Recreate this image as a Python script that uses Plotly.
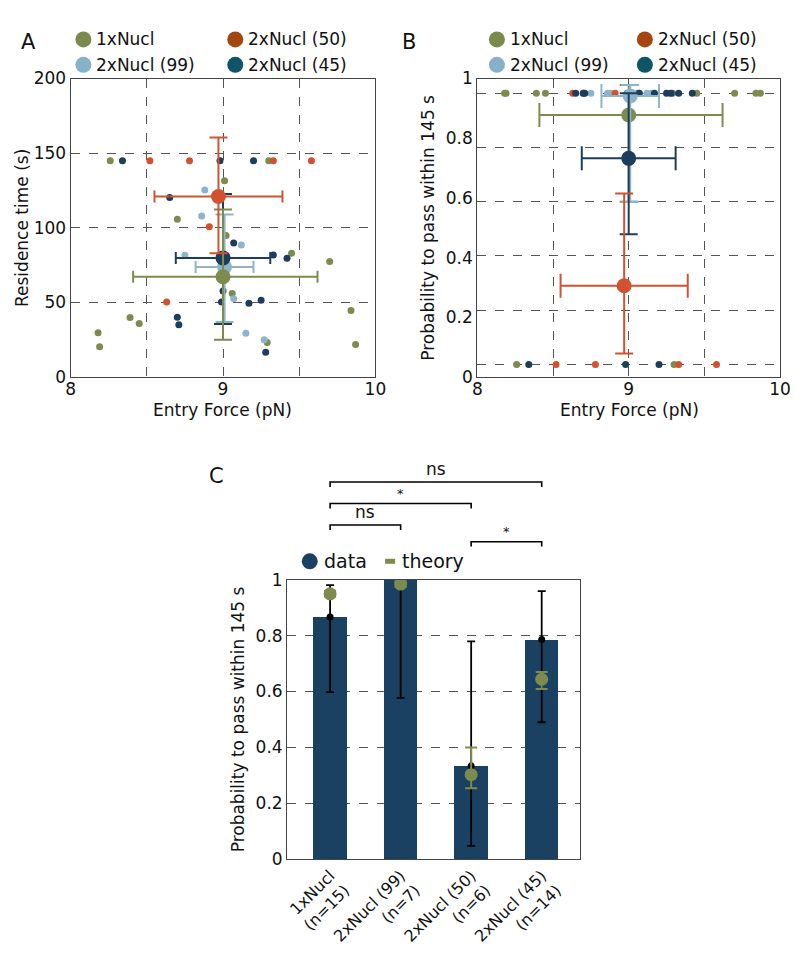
import plotly.graph_objects as go

FONT = "DejaVu Sans"
W, H = 796, 962

# ---------------- data ----------------
groups = ["1xNucl", "2xNucl (99)", "2xNucl (50)", "2xNucl (45)"]

# Panel A: individual events (entry force pN, residence time s); 145 s = did not pass
f_1x = [8.26, 9.30, 9.01, 8.70, 9.02, 9.45, 9.70, 9.06, 9.84, 8.39, 8.45, 8.18, 8.19, 9.29, 9.87]
t_1x = [145, 145, 131.6, 105.7, 94.9, 83.0, 77.5, 56.0, 44.7, 39.9, 36.0, 29.7, 20.4, 23.2, 21.9]
f_99 = [8.88, 8.86, 9.12, 8.75, 9.07, 9.15, 9.27]
t_99 = [125.3, 107.9, 88.6, 81.6, 52.6, 29.5, 25.0]
f_50 = [8.52, 8.78, 9.33, 9.58, 8.91, 8.63]
t_50 = [145, 145, 145, 145, 100.8, 50.4]
f_45 = [8.34, 8.98, 9.20, 8.65, 9.07, 9.33, 9.42, 9.00, 8.99, 9.17, 9.25, 8.70, 8.71, 9.28]
t_45 = [145, 145, 145, 120.3, 89.9, 81.9, 79.7, 57.8, 50.4, 49.5, 51.5, 40.2, 35.2, 16.7]
cutoff = 145

# group summaries (order: 1x, 99, 50, 45)
force_mean = [9.00, 9.01, 8.97, 9.00]
force_lo = [8.41, 8.82, 8.55, 8.69]
force_hi = [9.62, 9.20, 9.39, 9.31]
time_mean = [67.3, 73.8, 121.0, 79.9]
time_lo = [25.0, 37.0, 83.0, 35.6]
time_hi = [112.3, 109.0, 160.5, 122.7]
prob_mean = [0.92, 0.99, 0.29, 0.76]
prob_lo = [0.60, 0.60, 0.04, 0.48]
prob_hi = [1.03, 1.03, 0.63, 1.00]

# Panel C
c_labels = ["1xNucl<br>(n=15)", "2xNucl (99)<br>(n=7)", "2xNucl (50)<br>(n=6)", "2xNucl (45)<br>(n=14)"]
c_data = [0.867, 1.0, 0.333, 0.786]
c_data_lo = [0.598, 0.577, 0.047, 0.490]
c_data_hi = [0.981, 1.0, 0.780, 0.960]
c_theory = [0.95, 0.985, 0.302, 0.644]
c_theory_lo = [0.94, 0.975, 0.253, 0.609]
c_theory_hi = [0.96, 0.995, 0.399, 0.670]
sig_pairs = [(0, 3), (0, 2), (0, 1), (2, 3)]
sig_labels = ["ns", "*", "ns", "*"]

# ---------------- styling ----------------
COL = ["#7D8C4E", "#8DB4C9", "#D2522F", "#1C3D5C"]
LEG_COL = ["#7B8A4B", "#87B1C8", "#A3470F", "#0D5567"]
BAR = "#1B4162"
TXT = "#111111"
GRID = "#555555"

raw_f = [f_1x, f_99, f_50, f_45]
raw_t = [t_1x, t_99, t_50, t_45]

fig = go.Figure()

def px2x(px):
    return px / W

def px2y(py):
    return 1 - py / H

# Panel A small points
for g in range(4):
    fig.add_trace(go.Scatter(x=raw_f[g], y=raw_t[g], mode="markers", xaxis="x", yaxis="y",
                             marker=dict(size=7, color=COL[g], line=dict(width=0)),
                             showlegend=False, name=groups[g]))
# Panel B small points
for g in range(4):
    fig.add_trace(go.Scatter(x=raw_f[g], y=[1 if t < cutoff else 0 for t in raw_t[g]],
                             mode="markers", xaxis="x2", yaxis="y2",
                             marker=dict(size=7, color=COL[g], line=dict(width=0)),
                             showlegend=False, name=groups[g]))

for g in [1, 3, 0, 2]:
    ex = dict(type="data", symmetric=False, array=[force_hi[g] - force_mean[g]],
              arrayminus=[force_mean[g] - force_lo[g]], color=COL[g], thickness=2, width=6)
    fig.add_trace(go.Scatter(x=[force_mean[g]], y=[time_mean[g]], mode="markers", xaxis="x", yaxis="y",
                             marker=dict(size=15, color=COL[g]), showlegend=False, name=groups[g],
                             error_x=ex,
                             error_y=dict(type="data", symmetric=False, array=[time_hi[g] - time_mean[g]],
                                          arrayminus=[time_mean[g] - time_lo[g]], color=COL[g],
                                          thickness=2, width=9)))
for g in [0, 1, 3, 2]:
    ex = dict(type="data", symmetric=False, array=[force_hi[g] - force_mean[g]],
              arrayminus=[force_mean[g] - force_lo[g]], color=COL[g], thickness=2, width=12)
    fig.add_trace(go.Scatter(x=[force_mean[g]], y=[prob_mean[g]], mode="markers", xaxis="x2", yaxis="y2",
                             marker=dict(size=15, color=COL[g]), showlegend=False, name=groups[g],
                             error_x=ex,
                             error_y=dict(type="data", symmetric=False, array=[prob_hi[g] - prob_mean[g]],
                                          arrayminus=[prob_mean[g] - prob_lo[g]], color=COL[g],
                                          thickness=2, width=9)))

# Panel C
cx = list(range(len(c_labels)))
fig.add_trace(go.Bar(x=cx, y=c_data, xaxis="x3", yaxis="y3", width=0.474,
                     marker=dict(color=BAR, line=dict(width=0)), showlegend=False, name="data"))
fig.add_trace(go.Scatter(x=cx, y=c_data, xaxis="x3", yaxis="y3", mode="markers",
                         marker=dict(size=7, color="black"), showlegend=False, name="data",
                         error_y=dict(type="data", symmetric=False,
                                      array=[h - v for h, v in zip(c_data_hi, c_data)],
                                      arrayminus=[v - l for v, l in zip(c_data, c_data_lo)],
                                      color="black", thickness=1.8, width=4)))
fig.add_trace(go.Scatter(x=cx, y=c_theory, xaxis="x3", yaxis="y3", mode="markers",
                         marker=dict(size=13, color=COL[0]), showlegend=False, name="theory",
                         error_y=dict(type="data", symmetric=False,
                                      array=[h - v for h, v in zip(c_theory_hi, c_theory)],
                                      arrayminus=[v - l for v, l in zip(c_theory, c_theory_lo)],
                                      color=COL[0], thickness=2, width=6)))

axis_common = dict(showline=True, mirror=True, linecolor="#444444", linewidth=1.3, ticks="",
                   zeroline=False, tickfont=dict(family=FONT, size=17, color=TXT),
                   gridcolor=GRID, griddash="dash", gridwidth=1)

# B visible tick labels: box 70..375 px, inner 0 at 362 px, 1 at 85 px
b_vis = [0, 0.2, 0.4, 0.6, 0.8, 1]
b_tickvals = [(305 * v - 13) / 277 for v in b_vis]
b_ticktext = ["0", "0.2", "0.4", "0.6", "0.8", "1"]

fig.update_layout(
    width=W, height=H, margin=dict(l=0, r=0, t=0, b=0),
    paper_bgcolor="white", plot_bgcolor="white",
    font=dict(family=FONT, size=17, color=TXT),
    showlegend=False,
    bargap=0,
    xaxis=dict(domain=[px2x(67), px2x(378)], range=[8, 10], anchor="y",
               tickvals=[8, 9, 10], ticktext=["8", "9", "10"], showgrid=True,
               minor=dict(tickvals=[8.5, 9.5], showgrid=True, gridcolor=GRID, griddash="dash", ticks=""),
               ticklabelstandoff=-4,
               **axis_common),
    yaxis=dict(domain=[px2y(375), px2y(70)], range=[0, 200], anchor="x",
               tickvals=[0, 50, 100, 150, 200], showgrid=True,
               title=dict(text="Residence time (s)", font=dict(family=FONT, size=17), standoff=0),
               **axis_common),
    xaxis2=dict(domain=[px2x(482), px2x(791)], range=[8, 10], anchor="y2",
                tickvals=[8, 9, 10], ticktext=["8", "9", "10"], showgrid=True,
                minor=dict(tickvals=[8.5, 9.5], showgrid=True, gridcolor=GRID, griddash="dash", ticks=""),
                ticklabelstandoff=-4,
                **axis_common),
    yaxis2=dict(domain=[px2y(375), px2y(70)], range=[-13 / 277, 1 + 15 / 277], anchor="x2",
                tickvals=b_tickvals, ticktext=b_ticktext, showgrid=False,
                minor=dict(dtick=0.2, tick0=0, showgrid=True, gridcolor=GRID, griddash="dash", ticks=""),
                title=dict(text="Probability to pass within 145 s", font=dict(family=FONT, size=17), standoff=6),
                **axis_common),
    xaxis3=dict(domain=[px2x(288), px2x(587)], range=[-0.608, 3.546], anchor="y3",
                tickvals=cx, ticktext=c_labels, tickangle=-45, showgrid=False,
                **{**axis_common, "tickfont": dict(family=FONT, size=16, color=TXT)}),
    yaxis3=dict(domain=[px2y(867), px2y(582)], range=[0, 1], anchor="x3",
                tickvals=[0, 0.2, 0.4, 0.6, 0.8, 1], ticktext=["0", "0.2", "0.4", "0.6", "0.8", "1"],
                showgrid=True,
                title=dict(text="Probability to pass within 145 s", font=dict(family=FONT, size=17), standoff=6),
                **axis_common),
)

shapes = []
annots = []

# x-axis titles of A and B
for x in [222, 637]:
    annots.append(dict(text="Entry Force (pN)", x=px2x(x), y=px2y(409), xref="paper", yref="paper",
                       xanchor="center", yanchor="middle", showarrow=False,
                       font=dict(family=FONT, size=17, color=TXT)))

# panel letters
for letter, x, y in [("A", 14, 18), ("B", 412, 18), ("C", 206, 476)]:
    annots.append(dict(text=letter, x=px2x(x), y=px2y(y), xref="paper", yref="paper",
                       showarrow=False, font=dict(family=FONT, size=21, color=TXT)))

# legends for A and B (2x2)
leg_slots = {0: (0, 0), 2: (1, 0), 1: (0, 1), 3: (1, 1)}
for base_x, col_dx in [(80, 155), (502, 151)]:
    for g, (c, r) in leg_slots.items():
        cxp = base_x + c * col_dx
        cyp = 30 + r * 26
        shapes.append(dict(type="circle", xref="paper", yref="paper", xsizemode="pixel", ysizemode="pixel",
                           xanchor=px2x(cxp), yanchor=px2y(cyp), x0=-8, x1=8, y0=-8, y1=8,
                           fillcolor=LEG_COL[g], line=dict(width=0)))
        annots.append(dict(text=groups[g], x=px2x(cxp + 11), y=px2y(cyp), xref="paper", yref="paper",
                           xanchor="left", yanchor="middle", showarrow=False,
                           font=dict(family=FONT, size=17, color=TXT)))

# legend C
shapes.append(dict(type="circle", xref="paper", yref="paper", xsizemode="pixel", ysizemode="pixel",
                   xanchor=px2x(311), yanchor=px2y(563), x0=-8, x1=8, y0=-8, y1=8,
                   fillcolor=BAR, line=dict(width=0)))
annots.append(dict(text="data", x=px2x(323), y=px2y(563), xref="paper", yref="paper", xanchor="left",
                   yanchor="middle", showarrow=False, font=dict(family=FONT, size=19, color=TXT)))
shapes.append(dict(type="rect", xref="paper", yref="paper", xsizemode="pixel", ysizemode="pixel",
                   xanchor=px2x(393), yanchor=px2y(563), x0=-5, x1=5, y0=-2.5, y1=2.5,
                   fillcolor=COL[0], line=dict(width=0)))
annots.append(dict(text="theory", x=px2x(403), y=px2y(563), xref="paper", yref="paper", xanchor="left",
                   yanchor="middle", showarrow=False, font=dict(family=FONT, size=19, color=TXT)))

# significance brackets
levels_px = [482, 504, 526, 543]
for (i, j), lab, lv in zip(sig_pairs, sig_labels, levels_px):
    y0 = px2y(lv)
    y1 = px2y(lv + 5)
    shapes.append(dict(type="path", xref="x3", yref="paper",
                       path=f"M {i},{y1} L {i},{y0} L {j},{y0} L {j},{y1}",
                       line=dict(color="black", width=1.6)))
    annots.append(dict(text=lab, x=(i + j) / 2, y=px2y(lv - 1), xref="x3", yref="paper",
                       xanchor="center", yanchor="bottom", showarrow=False,
                       font=dict(family=FONT, size=17 if lab == "ns" else 13, color=TXT)))

fig.update_layout(shapes=shapes, annotations=annots)

fig.write_html("out.html", config={"displayModeBar": False},
               post_script="document.body.style.margin='0';")
